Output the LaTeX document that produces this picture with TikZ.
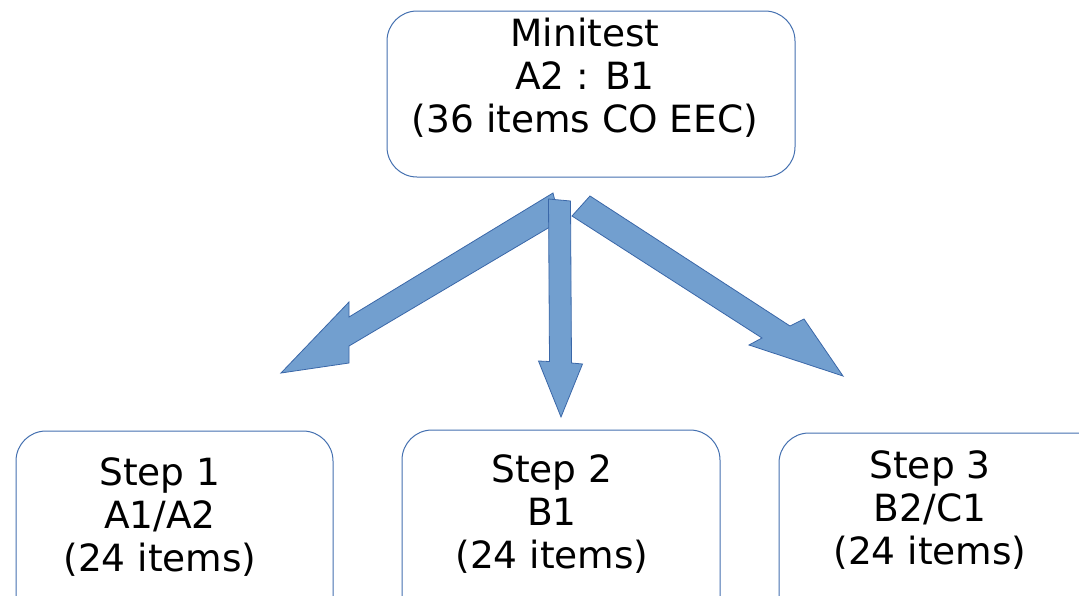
\documentclass[tikz,border=0pt]{standalone}
\usepackage{fontspec}
\setmainfont{DejaVu Sans}
\definecolor{boxline}{HTML}{4470B0}
\definecolor{arrfill}{HTML}{729FCF}
\definecolor{arrline}{HTML}{3A67A8}
\begin{document}
\begin{tikzpicture}[x=1pt,y=-1pt,
  box/.style={draw=boxline,line width=1pt,fill=white,rounded corners=30pt},
  label/.style={align=center,font=\fontsize{37.5}{43}\selectfont,inner sep=0pt},
  blockarrow/.style={fill=arrfill,draw=arrline,line width=0.8pt,line join=miter}]
\useasboundingbox (0,0) rectangle (1079,595);
\clip (0,0) rectangle (1079,595);
% boxes
\draw[box] (387,11) rectangle (795,177);
\draw[box] (16,431) rectangle (333,650);
\draw[box] (402,430) rectangle (720,650);
\draw[box] (779,433) rectangle (1130,650);
% texts
\node[label] (top) at (585,78) {Minitest\\A2 : B1\\(36 items CO EEC)};
\node[label] (s1) at (160,517) {Step 1\\A1/A2\\(24 items)};
\node[label] (s2) at (552,514) {Step 2\\B1\\(24 items)};
\node[label] (s3) at (930,510) {Step 3\\B2/C1\\(24 items)};
% block arrows
\draw[blockarrow] (553,193) -- (349,317) -- (349,302) -- (281,373) -- (349,363) -- (349,346) -- (560,221) -- cycle;
\draw[blockarrow] (590,196) -- (790,326) -- (804,319) -- (843,376) -- (749,345) -- (762,338) -- (572,216) -- cycle;
\draw[blockarrow] (548.5,199) -- (570.5,201) -- (571.5,363) -- (582.5,364) -- (561,417) -- (538.5,361) -- (549.5,361.5) -- cycle;
\end{tikzpicture}
\end{document}
